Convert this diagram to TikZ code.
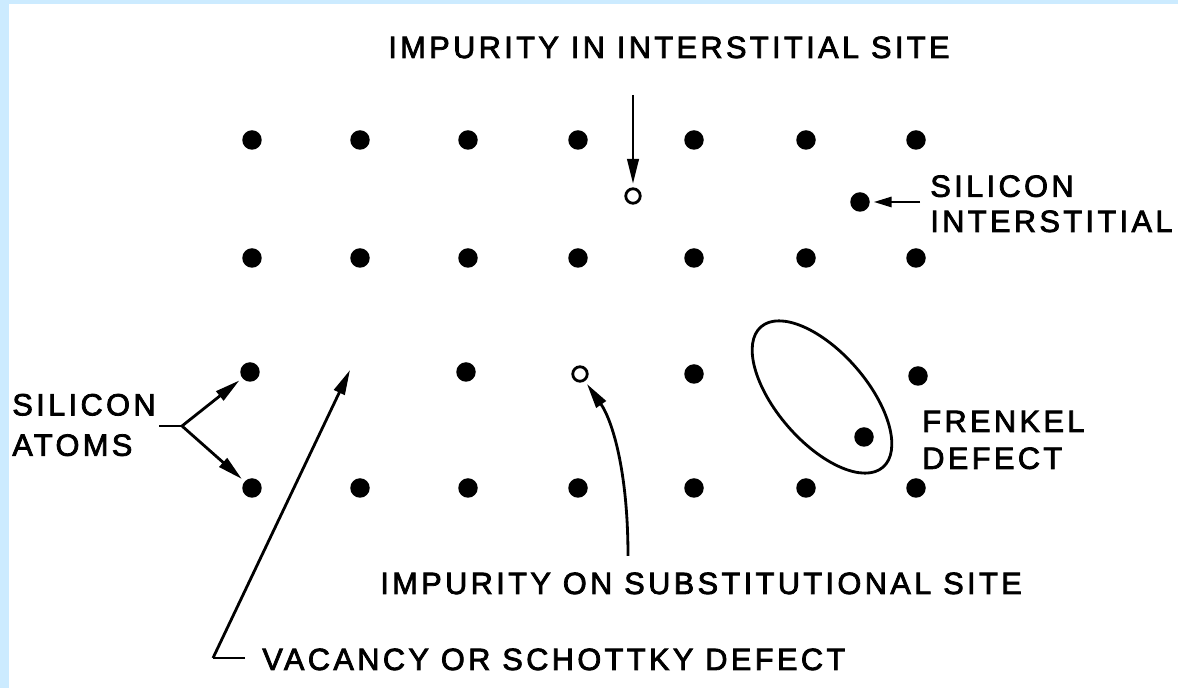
\documentclass[tikz,border=0pt]{standalone}
\usepackage{fontspec}
\newfontfamily\plotfont[LetterSpace=11, FakeBold=2.5]{Liberation Sans}
\usetikzlibrary{arrows.meta, positioning}
\definecolor{frameblue}{HTML}{CCEBFF}

\begin{document}
\begin{tikzpicture}[x=0.02cm, y=-0.02cm,
  atom/.style={circle, fill, inner sep=0pt, minimum size=0.39cm},
  impurity/.style={circle, draw, line width=1.6pt, inner sep=0pt, minimum size=0.29cm},
  lbl/.style={font=\plotfont\fontsize{17.5}{21}\selectfont, inner sep=0pt, align=left},
  arr/.style={line width=1.6pt, -{Triangle[length=0.5cm, width=0.23cm]}, shorten >=2pt},
  lead/.style={line width=1.6pt}]
  % frame
  \fill[frameblue] (0,0) rectangle (1178,688);
  \fill[white] (9,4) rectangle (1178,688);

  % lattice
  \foreach \x [count=\c] in {252,360,468,578,694,806,916} {
    \node[atom] (a1\c) at (\x,140) {};
    \node[atom] (a2\c) at (\x,258) {};
    \node[atom] (a4\c) at (\x,488) {};
  }
  \node[atom] (a31) at (250,372) {};
  \coordinate (vac) at (350,370);
  \node[atom] (a33) at (466,372) {};
  \node[impurity] (sub) at (580,374) {};
  \node[atom] (a35) at (694,374) {};
  \node[atom] (a37) at (918,376) {};

  % defects
  \node[impurity] (intimp) at (633,196) {};
  \node[atom] (siint) at (860,202) {};
  \node[atom] (frk) at (864,437) {};
  \draw[line width=1.6pt, rotate around={-49:(822,397)}] (822,397) ellipse [x radius=1.86cm, y radius=0.9cm];

  % labels
  \node[lbl, anchor=base west] (toplbl) at (388,58) {IMPURITY IN INTERSTITIAL SITE};
  \coordinate (t0) at (633,95);
  \draw[arr] (t0) -- (intimp);

  \node[lbl, anchor=north west, font=\plotfont\fontsize{17.5}{20}\selectfont] (silint) at (930,175) {SILICON\\INTERSTITIAL};
  \coordinate (s0) at (920,202);
  \draw[line width=1.6pt, -{Triangle[length=0.36cm, width=0.2cm]}, shorten >=2pt] (s0) -- (siint);

  \node[lbl, anchor=west, font=\plotfont\fontsize{17.5}{23}\selectfont] (siat) at (12,425) {SILICON\\ATOMS};
  \coordinate (br) at (182,426);
  \draw[lead] (159,426) -- (br);
  \draw[arr] (br) -- (a31);
  \draw[arr] (br) -- (a41);

  \node[lbl, anchor=base west] (vaclbl) at (262,670) {VACANCY OR SCHOTTKY DEFECT};
  \coordinate (vc) at (213,658);
  \draw[lead] (245,658) -- (vc);
  \draw[arr, shorten >=0pt] (vc) -- (vac);

  \node[lbl, anchor=base west] (sublbl) at (380,594) {IMPURITY ON SUBSTITUTIONAL SITE};
  \coordinate (u0) at (628,556);
  \draw[arr] (u0) .. controls (628,470) and (612,420) .. (sub);

  \node[lbl, anchor=west] (frlbl) at (922,440) {FRENKEL\\DEFECT};
\end{tikzpicture}
\end{document}
